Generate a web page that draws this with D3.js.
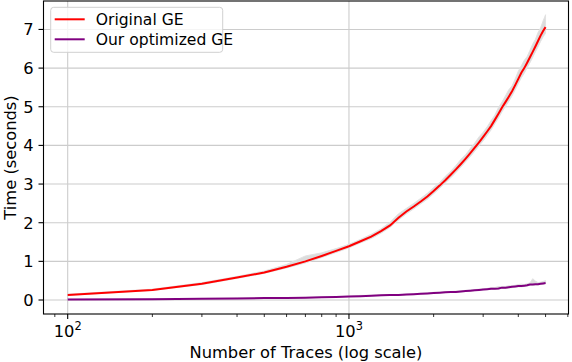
<!DOCTYPE html>
<html>
<head>
<meta charset="utf-8">
<script src="https://cdn.jsdelivr.net/npm/d3@7"></script>
<style>
  body { margin: 0; background: #fff; }
  text { font-family: "DejaVu Sans", sans-serif; }
</style>
</head>
<body>
<div id="chart"></div>
<script>
// number of traces (x values)
var traces = [100,200,300,400,500,600,700,800,900,1000,
    1100,1200,1300,1400,1500,1600,1700,1800,1900,2000,
    2100,2200,2300,2400,2500,2600,2700,2800,2900,3000,
    3100,3200,3300,3400,3500,3600,3700,3800,3900,4000,
    4100,4200,4300,4400,4500,4600,4700,4800,4900,5000];

// mean time, original GE (seconds)
var originalGE = [0.13,0.26,0.42,0.58,0.71,0.86,1.00,1.14,1.27,1.39,
    1.52,1.64,1.78,1.93,2.13,2.29,2.42,2.55,2.68,2.82,
    2.96,3.10,3.24,3.38,3.52,3.66,3.80,3.94,4.08,4.22,
    4.36,4.50,4.66,4.82,4.98,5.12,5.26,5.40,5.56,5.72,
    5.88,6.00,6.14,6.28,6.42,6.56,6.70,6.84,6.96,7.06];

// spread of the individual runs around the mean (above / below)
var originalUp = [0.02,0.02,0.03,0.03,0.04,0.06,0.14,0.08,0.06,0.05,
    0.05,0.06,0.06,0.08,0.10,0.08,0.08,0.08,0.08,0.09,
    0.08,0.10,0.09,0.10,0.12,0.10,0.12,0.12,0.14,0.12,
    0.12,0.14,0.12,0.16,0.14,0.16,0.18,0.14,0.16,0.20,
    0.18,0.20,0.16,0.18,0.20,0.18,0.22,0.20,0.26,0.32];
var originalDown = [0.01,0.01,0.02,0.02,0.02,0.03,0.04,0.04,0.04,0.04,
    0.04,0.05,0.05,0.05,0.06,0.06,0.06,0.06,0.07,0.07,
    0.07,0.07,0.08,0.08,0.08,0.08,0.09,0.09,0.09,0.10,
    0.10,0.10,0.10,0.11,0.11,0.11,0.12,0.12,0.12,0.12,
    0.13,0.13,0.13,0.14,0.14,0.14,0.15,0.15,0.15,0.16];

// mean time, our optimized GE (seconds)
var optimizedGE = [0.01,0.02,0.03,0.04,0.05,0.05,0.06,0.07,0.08,0.09,
    0.10,0.11,0.12,0.13,0.13,0.14,0.15,0.16,0.17,0.18,
    0.19,0.20,0.21,0.21,0.22,0.23,0.24,0.25,0.26,0.27,
    0.28,0.29,0.29,0.30,0.32,0.32,0.33,0.34,0.35,0.36,
    0.36,0.37,0.38,0.40,0.40,0.41,0.41,0.42,0.43,0.44];
var optimizedUp = [0.01,0.01,0.01,0.01,0.01,0.01,0.01,0.01,0.01,0.01,
    0.02,0.01,0.01,0.01,0.01,0.01,0.01,0.01,0.01,0.02,
    0.01,0.02,0.01,0.02,0.02,0.02,0.02,0.02,0.02,0.02,
    0.02,0.03,0.03,0.05,0.03,0.03,0.04,0.03,0.03,0.04,
    0.05,0.03,0.04,0.04,0.15,0.08,0.04,0.04,0.05,0.06];
var optimizedDown = [0.005,0.005,0.005,0.005,0.005,0.005,0.005,0.005,0.005,0.005,
    0.01,0.01,0.01,0.01,0.01,0.01,0.01,0.01,0.01,0.01,
    0.01,0.01,0.01,0.01,0.01,0.01,0.01,0.01,0.01,0.01,
    0.01,0.01,0.01,0.02,0.02,0.02,0.02,0.02,0.02,0.02,
    0.02,0.02,0.02,0.02,0.02,0.02,0.02,0.02,0.02,0.02];

var yTicks = [0,1,2,3,4,5,6,7];
var xTicks = [100, 1000];
var seriesNames = ["Original GE", "Our optimized GE"];
var seriesColors = ["#ff0000", "#800080"];

var W = 572, H = 362;
var margin = {top: 1, right: 3.5, bottom: 48, left: 43.5};
var width = W - margin.left - margin.right,
    height = H - margin.top - margin.bottom;
var fontSize = "16.3px";

var svg = d3.select("#chart").append("svg")
    .attr("width", W)
    .attr("height", H)
    .append("g")
    .attr("transform", "translate(" + margin.left + "," + margin.top + ")");

// scales (matplotlib-like margins)
var x = d3.scaleLog()
    .domain([Math.pow(10, 1.914), Math.pow(10, 3.7805)])
    .range([0, width]);

var y = d3.scaleLinear()
    .domain([-0.362, 7.736])
    .range([height, 0]);

// grid
svg.append("g").selectAll("line.gy")
    .data(yTicks).enter().append("line")
    .attr("x1", 0).attr("x2", width)
    .attr("y1", d => y(d)).attr("y2", d => y(d))
    .attr("stroke", "#cccccc").attr("stroke-width", 1.1);

svg.append("g").selectAll("line.gx")
    .data(xTicks).enter().append("line")
    .attr("y1", 0).attr("y2", height)
    .attr("x1", d => x(d)).attr("x2", d => x(d))
    .attr("stroke", "#cccccc").attr("stroke-width", 1.1);

// data rows
var rows = traces.map(function(t, i){
    return {n: t,
        a: originalGE[i], aLo: originalGE[i] - originalDown[i], aHi: originalGE[i] + originalUp[i],
        b: optimizedGE[i], bLo: optimizedGE[i] - optimizedDown[i], bHi: optimizedGE[i] + optimizedUp[i]};
});

var bandA = d3.area().x(d => x(d.n)).y0(d => y(d.aLo)).y1(d => y(d.aHi));
var bandB = d3.area().x(d => x(d.n)).y0(d => y(d.bLo)).y1(d => y(d.bHi));

svg.append("path").datum(rows).attr("d", bandA)
    .attr("fill", "#dcdcdc").attr("stroke", "#e2e2e2").attr("stroke-width", 1);
svg.append("path").datum(rows).attr("d", bandB)
    .attr("fill", "#dcdcdc").attr("stroke", "#e2e2e2").attr("stroke-width", 1);

var lineA = d3.line().x(d => x(d.n)).y(d => y(d.a));
var lineB = d3.line().x(d => x(d.n)).y(d => y(d.b));

svg.append("path").datum(rows).attr("d", lineA)
    .attr("fill", "none").attr("stroke", seriesColors[0]).attr("stroke-width", 2);
svg.append("path").datum(rows).attr("d", lineB)
    .attr("fill", "none").attr("stroke", seriesColors[1]).attr("stroke-width", 2);

// frame
svg.append("rect")
    .attr("width", width).attr("height", height)
    .attr("fill", "none").attr("stroke", "#000").attr("stroke-width", 1.1);

// y axis ticks
var yg = svg.append("g");
yg.selectAll("line").data(yTicks).enter().append("line")
    .attr("x1", -5).attr("x2", 0)
    .attr("y1", d => y(d)).attr("y2", d => y(d))
    .attr("stroke", "#000").attr("stroke-width", 1.1);
yg.selectAll("text").data(yTicks).enter().append("text")
    .attr("x", -10).attr("y", d => y(d))
    .attr("dy", "0.36em")
    .attr("text-anchor", "end")
    .attr("font-size", fontSize)
    .text(d => d);

// x axis ticks
var minor = [];
[10, 100, 1000].forEach(function(dec){
    for (var k = 2; k <= 9; k++) {
        var v = dec * k;
        if (v >= x.domain()[0] && v <= x.domain()[1]) minor.push(v);
    }
});
var xg = svg.append("g").attr("transform", "translate(0," + height + ")");
xg.selectAll("line.minor").data(minor).enter().append("line")
    .attr("x1", d => x(d)).attr("x2", d => x(d))
    .attr("y1", 0).attr("y2", 3)
    .attr("stroke", "#000").attr("stroke-width", 0.8);
xg.selectAll("line.major").data(xTicks).enter().append("line")
    .attr("x1", d => x(d)).attr("x2", d => x(d))
    .attr("y1", 0).attr("y2", 5)
    .attr("stroke", "#000").attr("stroke-width", 1.1);
var xt = xg.selectAll("text").data(xTicks).enter().append("text")
    .attr("x", d => x(d)).attr("y", 22.5)
    .attr("text-anchor", "middle")
    .attr("font-size", fontSize);
xt.append("tspan").text("10");
xt.append("tspan").attr("dy", -7).attr("font-size", "11.4px")
    .text(d => Math.round(Math.log10(d)));

// axis labels
svg.append("text")
    .attr("x", width / 2).attr("y", height + 44)
    .attr("text-anchor", "middle")
    .attr("font-size", fontSize)
    .text("Number of Traces (log scale)");

svg.append("text")
    .attr("transform", "translate(" + (-28) + "," + (height / 2) + ") rotate(-90)")
    .attr("text-anchor", "middle")
    .attr("font-size", fontSize)
    .text("Time (seconds)");

// legend
var lg = svg.append("g").attr("transform", "translate(7.2,6.3)");
lg.append("rect")
    .attr("width", 172).attr("height", 45).attr("rx", 3)
    .attr("fill", "#fff").attr("fill-opacity", 0.8)
    .attr("stroke", "#d0d0d0").attr("stroke-width", 1);
seriesNames.forEach(function(name, i){
    var ly = 12 + i * 20;
    lg.append("line")
        .attr("x1", 4).attr("x2", 34)
        .attr("y1", ly).attr("y2", ly)
        .attr("stroke", seriesColors[i]).attr("stroke-width", 2);
    lg.append("text")
        .attr("x", 45).attr("y", ly).attr("dy", "0.36em")
        .attr("font-size", "15.6px")
        .text(name);
});
</script>
</body>
</html>
